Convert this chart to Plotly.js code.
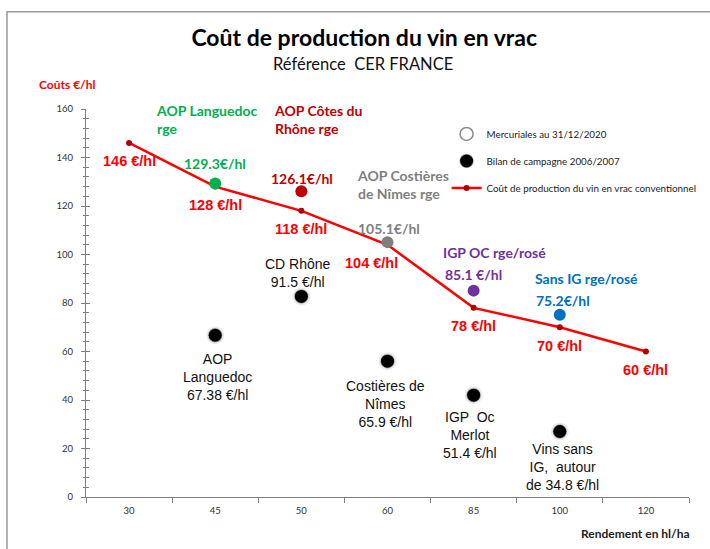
<!DOCTYPE html>
<html><head><meta charset="utf-8">
<script src="https://cdn.plot.ly/plotly-3.0.1.min.js"></script>
<style>html,body{margin:0;padding:0;background:#fff;}#chart{width:710px;height:549px;}</style>
</head><body><div id="chart"></div>
<script>
// ---- data ----
const rendements = ['30','45','50','60','85','100','120'];
const coutConventionnel = [146,128,118,104,78,70,60];
const coutLabels = ['146 €/hl','128 €/hl','118 €/hl','104 €/hl','78 €/hl','70 €/hl','60 €/hl'];

const mercuRendements = ['45','50','60','85','100'];
const mercuCouts = [129.3,126.1,105.1,85.1,75.2];
const mercuAppellations = ['AOP Languedoc<br>rge','AOP Côtes du<br>Rhône rge','AOP Costières<br>de Nîmes rge','IGP OC rge/rosé','Sans IG rge/rosé'];
const mercuValeurs = ['129.3€/hl','126.1€/hl','105.1€/hl','85.1 €/hl','75.2€/hl'];

const bilanRendements = ['45','50','60','85','100'];
const bilanCouts = [66.7,82.7,56,42,27];
const bilanLabels = ['AOP<br>Languedoc<br>67.38 €/hl','CD Rhône<br>91.5 €/hl','Costières de<br>Nîmes<br>65.9 €/hl','IGP  Oc<br>Merlot<br>51.4 €/hl','Vins sans<br>IG,  autour<br>de 34.8 €/hl'];

const legendNames = ['Mercuriales au 31/12/2020','Bilan de campagne 2006/2007','Coût de production du vin en vrac conventionnel'];

// ---- styles ----
const mercuColors = ['#00B050','#C00000','#7F7F7F','#7030A0','#0070C0'];
const ARIAL = 'Liberation Sans, Arial, sans-serif';
const CALIBRI = 'Lato, Carlito, sans-serif';
const coutXShift = [0,0,0,-16,0,0,0];
const mercuValShift = [[0,20],[1,13],[1,14],[0,16],[3,14]];
const mercuNameShift = [[-61,63.5],[-29,72],[-33,58],[-33,38],[-27,36]];
const bilanShift = [[2,-42],[-3,23],[-2,-43],[-4,-40],[3,-35]];
const ci = r => rendements.indexOf(r);

const traces = [
  {x: rendements, y: coutConventionnel, type:'scatter', mode:'lines+markers', name: legendNames[2],
   line:{color:'#FF0000', width:2.5}, marker:{color:'#B00000', size:6}, legendrank:3, legendgroup:'c'},
  {x: mercuRendements, y: mercuCouts, type:'scatter', mode:'markers', showlegend:false,
   marker:{color: mercuColors, size:12}},
  {x: bilanRendements, y: bilanCouts, type:'scatter', mode:'markers', showlegend:false, hoverinfo:'skip',
   marker:{color:'rgba(0,0,0,0.08)', size:18}},
  {x: bilanRendements, y: bilanCouts, type:'scatter', mode:'markers', name: legendNames[1],
   marker:{color:'#000', size:13, line:{color:'rgba(0,0,0,0.3)', width:1.5}}, legendrank:2, legendgroup:'b'},
  {x: [null], y: [null], type:'scatter', mode:'markers', name: legendNames[0],
   marker:{color:'#fff', size:13, line:{color:'#8C8C8C', width:1.5}}, legendrank:1, legendgroup:'a'}
];

const annotations = [];
rendements.forEach((r,i)=>annotations.push({x:ci(r), y:coutConventionnel[i], xref:'x', yref:'y', text:'<b>'+coutLabels[i]+'</b>',
  showarrow:false, xshift:coutXShift[i], yshift:-18.5, font:{family:ARIAL, size:14.5, color:'#FF0000'}}));
mercuRendements.forEach((r,i)=>{
  annotations.push({x:ci(r), y:mercuCouts[i], xref:'x', yref:'y', text:'<b>'+mercuValeurs[i]+'</b>', showarrow:false,
    xshift:mercuValShift[i][0], yshift:mercuValShift[i][1], font:{family:CALIBRI, size:14, color:mercuColors[i]}});
  annotations.push({x:ci(r), y:mercuCouts[i], xref:'x', yref:'y', text:'<b>'+mercuAppellations[i]+'</b>', showarrow:false,
    xanchor:'left', align:'left', xshift:mercuNameShift[i][0], yshift:mercuNameShift[i][1],
    font:{family:CALIBRI, size:14, color:mercuColors[i]}});
});
bilanRendements.forEach((r,i)=>annotations.push({x:ci(r), y:bilanCouts[i], xref:'x', yref:'y', text:bilanLabels[i],
  showarrow:false, align:'center', xshift:bilanShift[i][0], yshift:bilanShift[i][1],
  font:{family:ARIAL, size:14, color:'#111'}}));
annotations.push({xref:'paper', yref:'paper', x:-0.082, y:1.063, xanchor:'left', yanchor:'middle', showarrow:false,
  text:'<b>Coûts €/hl</b>', font:{family:CALIBRI, size:12, color:'#FF0000'}});
annotations.push({xref:'paper', yref:'paper', x:1.005, y:-0.095, xanchor:'right', yanchor:'middle', showarrow:false,
  text:'<b>Rendement en hl/ha</b>', font:{family:CALIBRI, size:12, color:'#222'}});
annotations.push({xref:'paper', yref:'paper', x:0.46, y:(497-63)/388.5, xanchor:'center', yanchor:'middle', showarrow:false,
  text:'Référence  CER FRANCE', font:{family:CALIBRI, size:16.5, color:'#111'}});

const layout = {
  width:710, height:549,
  margin:{l:86, r:21, t:108.5, b:52, autoexpand:false},
  paper_bgcolor:'#fff', plot_bgcolor:'#fff',
  title:{text:'<b>Coût de production du vin en vrac</b>', x:0.513, xanchor:'center', y:1-38/549, yref:'container', yanchor:'middle',
    font:{family:CALIBRI, size:23, color:'#000'}},
  xaxis:{type:'category', range:[-0.5,6.5], tickson:'boundaries', ticks:'outside', ticklen:5, tickcolor:'#7F7F7F',
    showline:true, linecolor:'#7F7F7F', linewidth:1, showgrid:false, zeroline:false, ticklabelstandoff:5,
    tickfont:{family:CALIBRI, size:9.5, color:'#333'}, fixedrange:true},
  yaxis:{range:[0,160], dtick:20, ticks:'outside', ticklen:4, tickcolor:'#7F7F7F', showline:true, linecolor:'#7F7F7F',
    showgrid:false, zeroline:false, tickfont:{family:CALIBRI, size:9.5, color:'#333'}, ticklabelstandoff:6,
    minor:{dtick:4, ticks:'outside', ticklen:2.5, tickcolor:'#7F7F7F', showgrid:false}},
  yaxis2:{range:[0,160], dtick:20, overlaying:'y', side:'left', ticks:'inside', ticklen:4, tickcolor:'#7F7F7F',
    showticklabels:false, showgrid:false, zeroline:false, showline:false,
    minor:{dtick:4, ticks:'inside', ticklen:2.5, tickcolor:'#7F7F7F', showgrid:false}},
  showlegend:true,
  legend:{x:0.598, y:0.973, xanchor:'left', yanchor:'top', bgcolor:'rgba(0,0,0,0)', tracegroupgap:8,
    font:{family:CALIBRI, size:9.8, color:'#222'}, itemsizing:'trace'},
  annotations: annotations,
  shapes:[{type:'rect', xref:'paper', yref:'paper', x0:(7-86)/603, x1:(730-86)/603, y0:(497-570)/388.5, y1:(497-11)/388.5,
    line:{color:'#9A9A9A', width:1.5}, layer:'below'}]
};
traces.push({x:['30'], y:[null], yaxis:'y2', showlegend:false, hoverinfo:'skip', mode:'markers'});
Plotly.newPlot('chart', traces, layout, {displayModeBar:false, staticPlot:true});
</script></body></html>
